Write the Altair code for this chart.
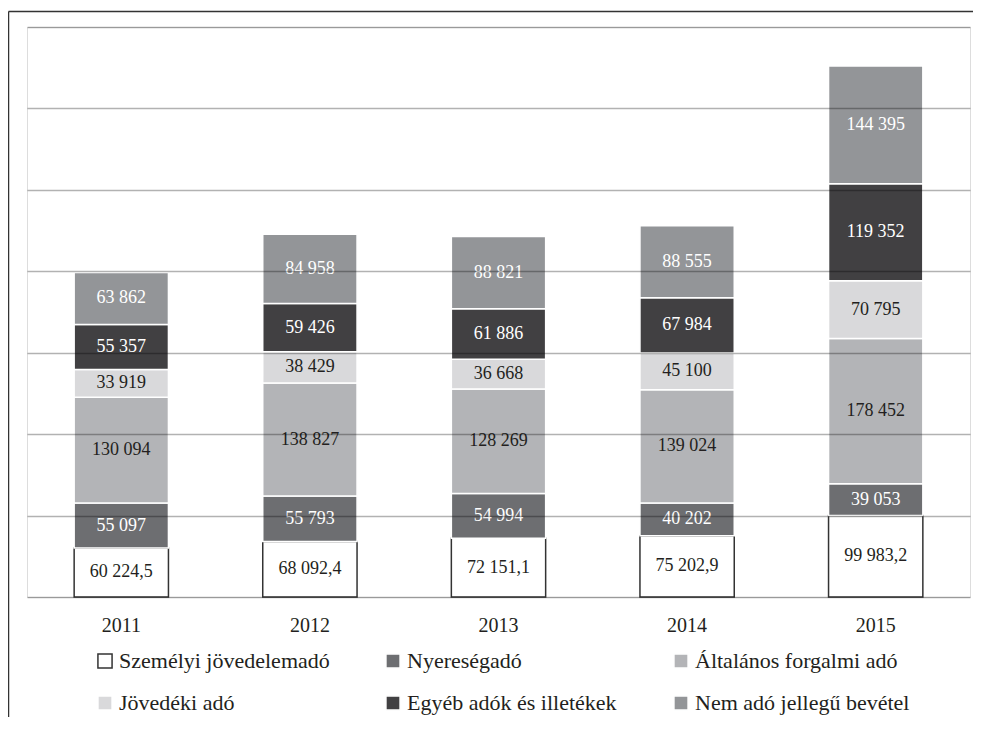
import altair as alt
import pandas as pd

years = ["2011", "2012", "2013", "2014", "2015"]
series = [
    "Személyi jövedelemadó",
    "Nyereségadó",
    "Általános forgalmi adó",
    "Jövedéki adó",
    "Egyéb adók és illetékek",
    "Nem adó jellegű bevétel",
]
szja = [60224.5, 68092.4, 72151.1, 75202.9, 99983.2]
nyereseg = [55097, 55793, 54994, 40202, 39053]
afa = [130094, 138827, 128269, 139024, 178452]
jovedeki = [33919, 38429, 36668, 45100, 70795]
egyeb = [55357, 59426, 61886, 67984, 119352]
nemado = [63862, 84958, 88821, 88555, 144395]

fills = ["#ffffff", "#6d6e71", "#b3b4b7", "#d9d9db", "#414042", "#939598"]
strokes = ["#333333", "#ffffff", "#ffffff", "#ffffff", "#ffffff", "#ffffff"]
text_colors = ["#231f20", "#ffffff", "#231f20", "#231f20", "#ffffff", "#ffffff"]

values = [szja, nyereseg, afa, jovedeki, egyeb, nemado]


def fmt(v, dec):
    s = f"{v:,.{dec}f}"
    return s.replace(",", " ").replace(".", ",")


rows = []
for si, (name, vals) in enumerate(zip(series, values)):
    for yi, y in enumerate(years):
        rows.append({
            "year": y,
            "series": name,
            "ord": si,
            "value": vals[yi],
            "label": fmt(vals[yi], 1 if si == 0 else 0),
            "tc": text_colors[si],
        })
df = pd.DataFrame(rows)

FONT = "Liberation Serif"
W, H = 943, 570

base = alt.Chart(df).transform_stack(
    stack="value", as_=["y0", "y1"], groupby=["year"], sort=[alt.SortField("ord")]
).transform_calculate(mid="(datum.y0 + datum.y1) / 2")

xenc = alt.X(
    "year:N",
    sort=years,
    scale=alt.Scale(paddingInner=0.5, paddingOuter=0.25),
    axis=alt.Axis(
        title=None, labelAngle=0, ticks=False, domain=False,
        labelFontSize=20, labelColor="#231f20", labelPadding=18, labelFont=FONT,
    ),
)
yscale = alt.Scale(domain=[0, 700000])

bars = base.mark_bar(strokeWidth=1.5).encode(
    x=xenc,
    y=alt.Y(
        "y0:Q", scale=yscale,
        axis=alt.Axis(
            title=None, labels=False, ticks=False, domain=False, grid=True,
            values=[0, 100000, 200000, 300000, 400000, 500000, 600000, 700000],
            gridColor="#000000", gridOpacity=0.3, gridWidth=1.5, zindex=1,
        ),
    ),
    y2="y1:Q",
    fill=alt.Fill(
        "series:N", sort=series,
        scale=alt.Scale(domain=series, range=fills),
        legend=alt.Legend(
            title=None, orient="none", legendX=67, legendY=623, columns=3,
            direction="horizontal",
            symbolType="square", symbolSize=200, symbolStrokeWidth=1.5,
            labelFontSize=22, labelFont=FONT, labelColor="#231f20",
            columnPadding=48, rowPadding=20, labelOffset=3, gridAlign="all",
            labelLimit=400,
        ),
    ),
    stroke=alt.Stroke(
        "series:N", sort=series,
        scale=alt.Scale(domain=series, range=strokes),
    ),
)

labels = base.mark_text(fontSize=18, font=FONT, baseline="middle").encode(
    x=alt.X("year:N", sort=years),
    y=alt.Y("mid:Q", scale=yscale),
    text="label:N",
    color=alt.Color("tc:N", scale=None),
)

frame_df = pd.DataFrame({"k": [0]})
left_line = alt.Chart(frame_df).mark_rule(color="#333333", strokeWidth=1.5).encode(
    x=alt.value(-18.5), y=alt.value(-15.5), y2=alt.value(H + 140)
)
top_line = alt.Chart(frame_df).mark_rule(color="#333333", strokeWidth=1.5).encode(
    x=alt.value(-18.5), x2=alt.value(W + 30), y=alt.value(-15.5)
)

chart = alt.layer(bars, labels, left_line, top_line).properties(
    width=W, height=H,
    autosize=alt.AutoSizeParams(type="none"),
    padding={"left": 19, "top": 19, "right": 3, "bottom": 120},
).configure_view(stroke=None).configure(font=FONT)

chart.save("out.html", embed_options={"renderer": "svg", "actions": False})
